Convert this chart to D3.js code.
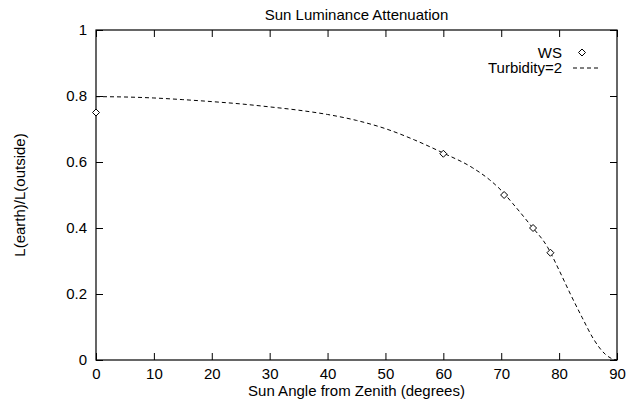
<!DOCTYPE html>
<html lang="en">
<head>
<meta charset="UTF-8">
<title>Sun Luminance Attenuation</title>
<script src="https://d3js.org/d3.v7.min.js"></script>
<style>
  body { margin: 0; background: #fff; }
  text { font-family: "Liberation Sans", Arial, sans-serif; font-size: 15px; fill: #000; }
</style>
</head>
<body>
<svg width="626" height="405"></svg>
<script>
// measured WS points
const wsAngle = [0, 60, 70.5, 75.5, 78.5];
const wsValue = [0.75, 0.625, 0.5, 0.4, 0.325];

// Turbidity=2 curve
const turbAngle = [0, 5, 10, 15, 20, 25, 30, 35, 40, 45, 50, 55, 60, 65, 68, 70, 72, 75, 78, 80, 82, 84, 86, 88, 89, 90];
const turbValue = [0.798, 0.797, 0.794, 0.789, 0.783, 0.776, 0.767, 0.757, 0.744, 0.726, 0.701, 0.667, 0.627, 0.583, 0.546, 0.514, 0.474, 0.41, 0.342, 0.272, 0.198, 0.128, 0.062, 0.017, 0.005, 0];

const xTicks = [0, 10, 20, 30, 40, 50, 60, 70, 80, 90];
const yTicks = [0, 0.2, 0.4, 0.6, 0.8, 1];

const svg = d3.select("svg");
const pLeft = 96, pRight = 617, pTop = 30, pBottom = 360;

var x = d3.scaleLinear().domain([0, 90]).range([pLeft, pRight]);
var y = d3.scaleLinear().domain([0, 1]).range([pBottom, pTop]);

// ticks, inward on all four sides
svg.append("g")
  .attr("transform", "translate(0," + pBottom + ")")
  .call(d3.axisBottom(x).tickValues(xTicks).tickSizeInner(-7).tickSizeOuter(0).tickPadding(8).tickFormat(d3.format("d")))
  .call(g => g.select(".domain").remove());
svg.append("g")
  .attr("transform", "translate(0," + pTop + ")")
  .call(d3.axisTop(x).tickValues(xTicks).tickSizeInner(-7).tickSizeOuter(0).tickFormat(""))
  .call(g => g.select(".domain").remove());
svg.append("g")
  .attr("transform", "translate(" + pLeft + ",0)")
  .call(d3.axisLeft(y).tickValues(yTicks).tickSizeInner(-7).tickSizeOuter(0).tickPadding(9).tickFormat(d => String(+d.toFixed(1))))
  .call(g => g.select(".domain").remove());
svg.append("g")
  .attr("transform", "translate(" + pRight + ",0)")
  .call(d3.axisRight(y).tickValues(yTicks).tickSizeInner(-7).tickSizeOuter(0).tickFormat(""))
  .call(g => g.select(".domain").remove());

svg.selectAll(".tick text").attr("font-family", null).attr("font-size", null).style("fill", "#000");
svg.selectAll(".tick line").attr("stroke", "#000");

// border
svg.append("rect")
  .attr("x", pLeft).attr("y", pTop)
  .attr("width", pRight - pLeft).attr("height", pBottom - pTop)
  .attr("fill", "none").attr("stroke", "#000").attr("stroke-width", 1.2);

// curve
const line = d3.line()
  .x((d, i) => x(turbAngle[i]))
  .y(d => y(d))
  .curve(d3.curveMonotoneX);

svg.append("path")
  .datum(turbValue)
  .attr("d", line)
  .attr("fill", "none")
  .attr("stroke", "#000")
  .attr("stroke-width", 1)
  .attr("stroke-dasharray", "4,3");

// diamonds
const diamond = "M0,-3.5L3.5,0L0,3.5L-3.5,0Z";
svg.append("g")
  .selectAll("path")
  .data(wsValue)
  .enter()
  .append("path")
  .attr("transform", (d, i) => "translate(" + x(wsAngle[i]) + "," + y(d) + ")")
  .attr("d", diamond)
  .attr("fill", "#fff")
  .attr("stroke", "#000")
  .attr("stroke-width", 1);

// legend
svg.append("text").attr("x", 562).attr("y", 57.5).attr("text-anchor", "end").text("WS");
svg.append("path").attr("transform", "translate(582,52.5)").attr("d", diamond)
  .attr("fill", "#fff").attr("stroke", "#000").attr("stroke-width", 1);
svg.append("text").attr("x", 562).attr("y", 73).attr("text-anchor", "end").text("Turbidity=2");
svg.append("line").attr("x1", 573).attr("x2", 601).attr("y1", 68).attr("y2", 68)
  .attr("stroke", "#000").attr("stroke-width", 1).attr("stroke-dasharray", "4,3");

// titles
svg.append("text").attr("x", (pLeft + pRight) / 2).attr("y", 20).attr("text-anchor", "middle")
  .text("Sun Luminance Attenuation");
svg.append("text").attr("x", (pLeft + pRight) / 2).attr("y", 396).attr("text-anchor", "middle")
  .text("Sun Angle from Zenith (degrees)");
svg.append("text").attr("transform", "translate(25," + (pTop + pBottom) / 2 + ") rotate(-90)")
  .attr("text-anchor", "middle")
  .text("L(earth)/L(outside)");
</script>
</body>
</html>
